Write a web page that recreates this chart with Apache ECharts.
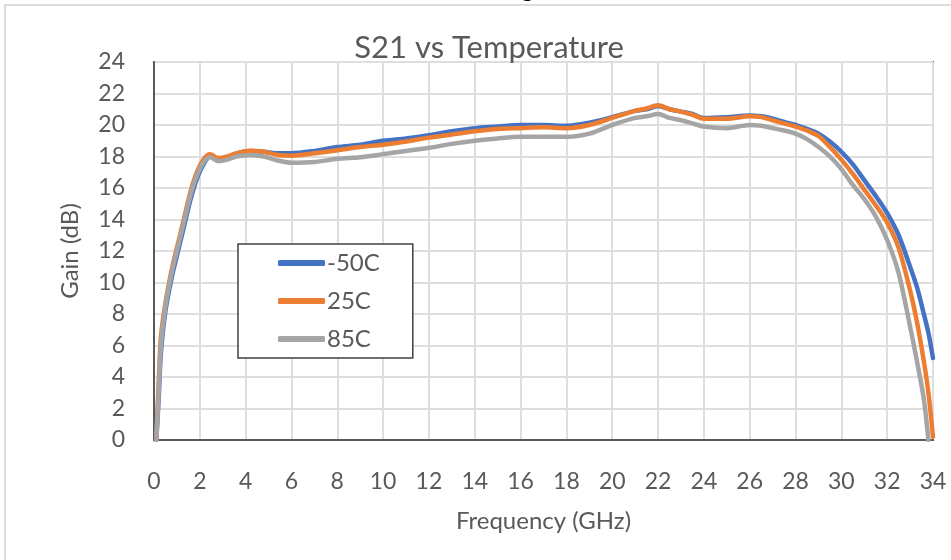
<!DOCTYPE html>
<html>
<head>
<meta charset="utf-8">
<script src="https://cdn.jsdelivr.net/npm/echarts@6/dist/echarts.min.js"></script>
<style>html,body{margin:0;padding:0;background:#fff;}#c{width:951px;height:560px;}</style>
</head>
<body>
<div id="c"></div>
<script>
const freq = [0.1,0.2,0.3,0.5,0.8,1.0,1.3,1.6,1.9,2.2,2.45,2.8,3.2,3.6,4.2,4.8,5.4,6,7,8,9,10,11,12,13,14,15,16,17,18,19,20,21,21.5,22,22.5,23,23.5,24,25,26,26.5,27,27.5,28,28.5,29,29.5,30,30.5,31,31.5,32,32.5,33,33.3,33.6,33.8,34];
const gainM50 = [0,2.5,5.5,8.2,10.5,11.7,13.5,15.3,16.7,17.6,18.0,17.85,17.95,18.2,18.35,18.3,18.2,18.2,18.35,18.6,18.75,19.0,19.15,19.35,19.6,19.8,19.9,20.0,20.0,19.95,20.15,20.5,20.9,21.0,21.2,21.0,20.85,20.7,20.45,20.5,20.6,20.55,20.4,20.2,20.0,19.75,19.45,18.95,18.3,17.5,16.5,15.5,14.4,13.0,11.0,9.7,8.0,6.8,5.2];
const gain25 = [0,3.5,6.5,8.7,11.0,12.2,14.0,15.8,17.1,17.9,18.15,17.9,18.0,18.2,18.37,18.3,18.1,18.05,18.2,18.4,18.6,18.75,18.95,19.2,19.4,19.6,19.75,19.8,19.85,19.8,20.0,20.45,20.9,21.05,21.25,21.0,20.85,20.65,20.4,20.4,20.55,20.5,20.3,20.1,19.9,19.65,19.3,18.6,17.8,16.9,15.9,14.9,13.8,12.2,9.5,7.5,5.0,3.0,0.2];
const gain85 = [0,3.0,6.0,8.5,10.8,12.0,13.8,15.6,16.9,17.7,17.95,17.7,17.8,18.0,18.1,18.0,17.75,17.6,17.65,17.85,17.95,18.15,18.35,18.55,18.8,19.0,19.15,19.25,19.25,19.25,19.45,20.0,20.45,20.55,20.7,20.45,20.3,20.1,19.9,19.8,20.0,19.95,19.8,19.65,19.45,19.1,18.6,18.0,17.2,16.2,15.3,14.2,12.7,10.6,7.2,5.0,2.6,0,null];
const seriesNames = ['-50C','25C','85C'];
const seriesColors = ['#4472C4','#ED7D31','#A5A5A5'];
const titleText = 'S21 vs Temperature';
const xName = 'Frequency (GHz)';
const yName = 'Gain (dB)';

const FONT = 'Lato';
const TXT = '#595959';
const pairs = a => freq.map((f,i)=>[f,a[i]]);
const allData = [gainM50, gain25, gain85];

const chart = echarts.init(document.getElementById('c'), null, {renderer:'canvas'});
chart.setOption({
  animation:false,
  backgroundColor:'#fff',
  title:{text:titleText,left:484,top:27,textAlign:'center',
    textStyle:{fontFamily:FONT,fontSize:31,fontWeight:'normal',color:TXT}},
  graphic:[
    {type:'rect',shape:{x:5,y:5,width:1000,height:600},style:{fill:'none',stroke:'#d4d4d4',lineWidth:1.5},silent:true},
    {type:'text',left:522,top:-20,style:{text:'g',fill:'#000',font:'bold 21px '+FONT},silent:true}
  ],
  legend:{
    orient:'vertical',left:238,top:244,
    data:seriesNames,
    icon:'roundRect',itemWidth:47,itemHeight:6,itemGap:14,
    padding:[7,33,7,40],
    borderColor:'#404040',borderWidth:1.5,backgroundColor:'#fff',
    textStyle:{fontFamily:FONT,fontSize:24,color:TXT,padding:[0,0,0,-3]}
  },
  grid:{left:154,right:18,top:62,bottom:120,show:true,borderColor:'#595959',borderWidth:2,containLabel:false},
  xAxis:{type:'value',min:0,max:34,interval:2,
    name:xName,nameLocation:'middle',nameGap:69,
    nameTextStyle:{fontFamily:FONT,fontSize:24,color:TXT},
    axisLine:{show:true,lineStyle:{color:'#595959',width:2}},
    axisTick:{show:false},
    axisLabel:{fontFamily:FONT,fontSize:23,color:TXT,margin:30},
    splitLine:{show:true,lineStyle:{color:'#dedede',width:2}}},
  yAxis:{type:'value',min:0,max:24,interval:2,
    name:yName,nameLocation:'middle',nameGap:72,
    nameTextStyle:{fontFamily:FONT,fontSize:24,color:TXT},
    axisLine:{show:true,lineStyle:{color:'#595959',width:2}},
    axisTick:{show:false},
    axisLabel:{fontFamily:FONT,fontSize:23,color:TXT,margin:29},
    splitLine:{show:true,lineStyle:{color:'#dedede',width:2}}},
  series: seriesNames.map((n,i)=>({
    name:n,type:'line',data:pairs(allData[i]),showSymbol:false,smooth:0.3,
    lineStyle:{color:seriesColors[i],width:4.5,cap:'round',join:'round'},
    itemStyle:{color:seriesColors[i]},z:2+i
  }))
});
</script>
</body>
</html>
